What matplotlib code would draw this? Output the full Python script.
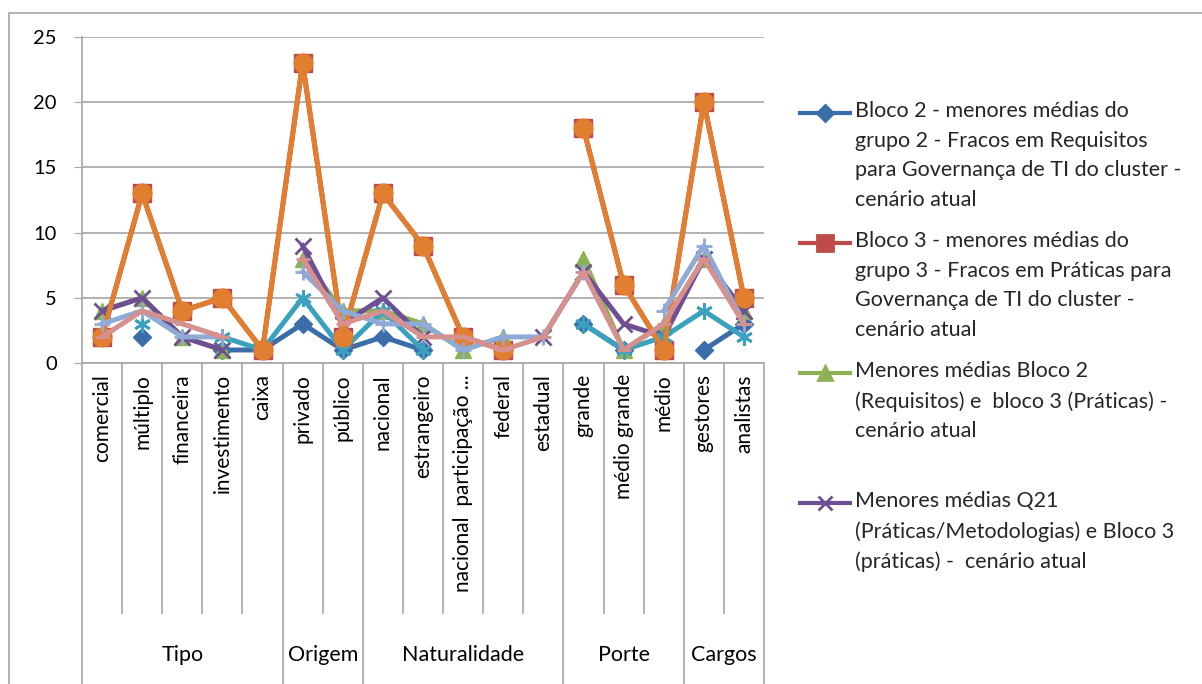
import numpy as np
import matplotlib
matplotlib.use('Agg')
import matplotlib.pyplot as plt
from matplotlib.lines import Line2D
from matplotlib.patches import Rectangle

plt.rcParams['font.family'] = ['Lato', 'DejaVu Sans']

nan = np.nan

categorias = ['comercial', 'múltiplo', 'financeira', 'investimento', 'caixa',
              'privado', 'público', 'nacional', 'estrangeiro', 'nacional  participação ...',
              'federal', 'estadual', 'grande', 'médio grande', 'médio',
              'gestores', 'analistas']
grupos = ['Tipo', 'Origem', 'Naturalidade', 'Porte', 'Cargos']
tamanho_grupos = [5, 2, 5, 3, 2]

bloco2 = [nan, 2, nan, 1, 1, 3, 1, 2, 1, nan, 1, nan, 3, 1, nan, 1, 3]
bloco3 = [2, 13, 4, 5, 1, 23, 2, 13, 9, 2, 1, nan, 18, 6, 1, 20, 5]
menores_b2_b3 = [4, 5, 2, 1, nan, 8, 4, 4, 3, 1, 2, nan, 8, 1, 3, 8, 4]
menores_q21 = [4, 5, 2, 1, nan, 9, 3, 5, 2, nan, nan, 2, 7, 3, 2, 8, 4]
serie5 = [nan, 3, nan, 2, 1, 5, 1, 4, 1, nan, 1, nan, 3, 1, 2, 4, 2]
serie6 = [2, 13, 4, 5, 1, 23, 2, 13, 9, 2, 1, nan, 18, 6, 1, 20, 5]
serie7 = [3, 4, 2, 2, nan, 7, 4, 3, 3, 1, 2, 2, 7, nan, 4, 9, 3]
serie8 = [2, 4, 3, 2, nan, 8, 3, 4, 2, 2, 1, 2, 7, 1, 3, 8, 3]

legendas = [
    'Bloco 2 - menores médias do\ngrupo 2 - Fracos em Requisitos\npara Governança de TI do cluster -\ncenário atual',
    'Bloco 3 - menores médias do\ngrupo 3 - Fracos em Práticas para\nGovernança de TI do cluster -\ncenário atual',
    'Menores médias Bloco 2\n(Requisitos) e  bloco 3 (Práticas) -\ncenário atual',
    'Menores médias Q21\n(Práticas/Metodologias) e Bloco 3\n(práticas) -  cenário atual',
]

W, H = 1202, 684
fig = plt.figure(figsize=(W / 100, H / 100), dpi=100)
x0, x1, y0, y1 = 82, 764, 37, 363
ax = fig.add_axes([x0 / W, 1 - y1 / H, (x1 - x0) / W, (y1 - y0) / H])

x = np.arange(len(categorias))
estilos = [
    (bloco2, '#3A6DAA', 'D', 9, 3),
    (bloco3, '#BE4B48', 's', 12.5, 4),
    (menores_b2_b3, '#8DB255', '^', 11, 5),
    (menores_q21, '#6E4F94', 'x', 11, 6),
    (serie5, '#3AA2BF', (6, 2, 0), 12, 7),
    (serie6, '#E27E30', 'o', 13.5, 8),
    (serie7, '#8FAAD6', '+', 12, 9),
    (serie8, '#D6908D', '_', 10, 10),
]
for vals, cor, mk, ms, z in estilos:
    mew = 2 if mk in ('x', '+', '_') or isinstance(mk, tuple) else 1
    ax.plot(x, vals, color=cor, lw=3.6, marker=mk, markersize=ms,
            markerfacecolor=cor, markeredgecolor=cor, markeredgewidth=mew, zorder=z)

ax.set_xlim(-0.5, len(categorias) - 0.5)
ax.set_ylim(0, 25)
ax.set_yticks([0, 5, 10, 15, 20, 25])
ax.yaxis.grid(True, color='#A6A6A6', lw=1.2)
ax.set_axisbelow(True)
for s in ['top', 'right']:
    ax.spines[s].set_visible(False)
for s in ['left', 'bottom']:
    ax.spines[s].set_color('#A6A6A6')
    ax.spines[s].set_linewidth(1.2)
ax.tick_params(axis='y', length=6, color='#A6A6A6', labelsize=14.5, pad=12)
ax.set_xticks(x)
ax.set_xticklabels(categorias, rotation=90, fontsize=15, va='top')
ax.tick_params(axis='x', length=0, pad=8)

# separadores de categorias e grupos abaixo do eixo
trans = ax.get_xaxis_transform()
sep_curto = -(613 - y1) / (y1 - y0)
sep_longo = -(700 - y1) / (y1 - y0)
fronteiras = np.cumsum([0] + tamanho_grupos) - 0.5
for b in np.arange(len(categorias) + 1) - 0.5:
    y_fim = sep_longo if b in fronteiras else sep_curto
    ax.plot([b, b], [0, y_fim], color='#A6A6A6', lw=1.2, transform=trans, clip_on=False)
y_grupo = -(655 - y1) / (y1 - y0)
for g, a, b in zip(grupos, fronteiras[:-1], fronteiras[1:]):
    ax.text((a + b) / 2, y_grupo, g, transform=trans, ha='center', va='center', fontsize=15.5)

# legenda (apenas 4 séries visíveis)
ys_leg = [113, 243, 373, 503]
for (vals, cor, mk, ms, z), texto, yl in zip(estilos[:4], legendas, ys_leg):
    yf = 1 - yl / H
    fig.add_artist(Line2D([800 / W, 850 / W], [yf, yf], color=cor, lw=3))
    fig.add_artist(Line2D([825 / W], [yf], color=cor, marker=mk, markersize=ms - 1,
                          markerfacecolor=cor, markeredgecolor=cor, markeredgewidth=2))
    fig.text(855 / W, 1 - (yl - 12) / H, texto, fontsize=15.5, va='top', ha='left',
             linespacing=1.6, color='#262626')

fig.add_artist(Rectangle((9 / W, -0.05), 1.2, 1 - 13 / H + 0.05, transform=fig.transFigure,
                         fill=False, edgecolor='#A6A6A6', lw=1.2))

fig.savefig('out.png', dpi=100)
